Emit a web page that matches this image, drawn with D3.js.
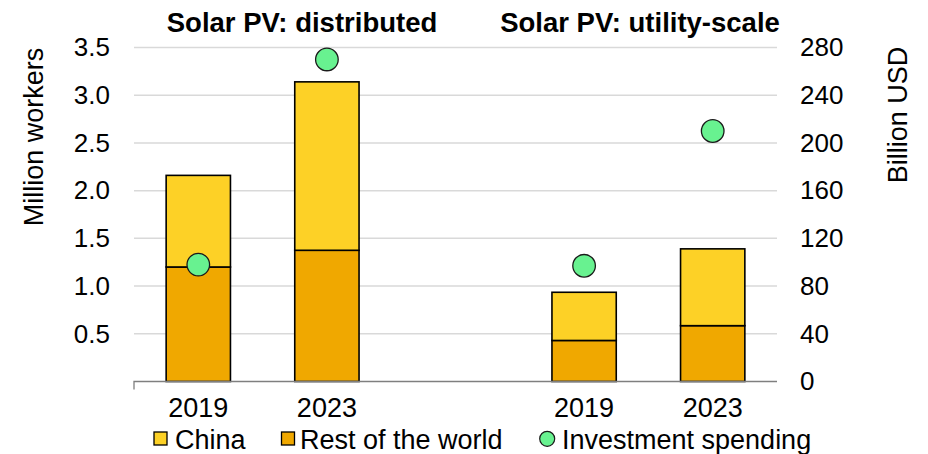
<!DOCTYPE html>
<html>
<head>
<meta charset="utf-8">
<script src="https://cdn.jsdelivr.net/npm/d3@7"></script>
<style>
  body { margin: 0; background: #fff; }
  svg text { font-family: "Liberation Sans", Arial, sans-serif; fill: #000; }
</style>
</head>
<body>
<svg id="chart" width="928" height="454"></svg>
<script>
// Band slots: two panels with an empty slot between them
const slots = ["d2019", "d2023", "gap", "u2019", "u2023"];
const categories = ["d2019", "d2023", "u2019", "u2023"];
const yearLabels = ["2019", "2023", "2019", "2023"];
// Million workers
const china = [0.96, 1.765, 0.505, 0.805];
const restOfWorld = [1.2, 1.375, 0.43, 0.585];
// Billion USD
const investment = [98, 270, 97, 210];
const workerTicks = [0.5, 1.0, 1.5, 2.0, 2.5, 3.0, 3.5];
const usdTicks = [0, 40, 80, 120, 160, 200, 240, 280];
const panelTitles = ["Solar PV: distributed", "Solar PV: utility-scale"];
const legendLabels = ["China", "Rest of the world", "Investment spending"];

const colChina = "#fdd126", colRest = "#f0a800", colInv = "#68f290";

const svg = d3.select("#chart");
const plotL = 134, plotR = 777, plotT = 47.5, plotB = 381.5;

const x = d3.scaleBand().domain(slots).range([plotL, plotR])
  .paddingInner(0.5).paddingOuter(0.25);
const yL = d3.scaleLinear().domain([0, 3.5]).range([plotB, plotT]);
const yR = d3.scaleLinear().domain([0, 280]).range([plotB, plotT]);

// Gridlines
svg.append("g").selectAll("line").data(workerTicks).join("line")
  .attr("x1", plotL).attr("x2", plotR)
  .attr("y1", d => yL(d)).attr("y2", d => yL(d))
  .attr("stroke", "#d9d9d9").attr("stroke-width", 1.5);

// Stacked bars
const rows = categories.map((c, i) => ({ c, rest: restOfWorld[i], china: china[i], inv: investment[i] }));
const stack = d3.stack().keys(["rest", "china"])(rows);
const fills = { rest: colRest, china: colChina };
svg.append("g").selectAll("g").data(stack).join("g")
  .attr("fill", d => fills[d.key])
  .selectAll("rect").data(d => d).join("rect")
  .attr("x", d => x(d.data.c))
  .attr("width", x.bandwidth())
  .attr("y", d => yL(d[1]))
  .attr("height", d => yL(d[0]) - yL(d[1]))
  .attr("stroke", "#000").attr("stroke-width", 1.6);

// Baseline with a single tick at the left end
svg.append("path")
  .attr("d", `M${plotL},${plotB + 8}V${plotB}H${plotR}`)
  .attr("fill", "none").attr("stroke", "#7f7f7f").attr("stroke-width", 1.3);

// Investment dots
svg.append("g").selectAll("circle").data(rows).join("circle")
  .attr("cx", d => x(d.c) + x.bandwidth() / 2)
  .attr("cy", d => yR(d.inv))
  .attr("r", 11.3)
  .attr("fill", colInv).attr("stroke", "#1a1a1a").attr("stroke-width", 1.3);

// Axes
const axL = svg.append("g").attr("transform", `translate(${plotL},0)`)
  .call(d3.axisLeft(yL).tickValues(workerTicks).tickFormat(d3.format(".1f")).tickSize(0).tickPadding(24));
const axR = svg.append("g").attr("transform", `translate(${plotR},0)`)
  .call(d3.axisRight(yR).tickValues(usdTicks).tickSize(0).tickPadding(23));
const axB = svg.append("g").attr("transform", `translate(0,${plotB})`)
  .call(d3.axisBottom(x).tickValues(categories).tickFormat((d, i) => yearLabels[i]).tickSize(0).tickPadding(16.5));
[axL, axR, axB].forEach(g => {
  g.select(".domain").remove();
  g.attr("font-family", null).attr("font-size", null);
  g.selectAll("text").style("font-size", "26px").attr("fill", "#000");
});
axB.selectAll("text").style("font-size", "27px");

// Axis titles
svg.append("text").attr("transform", "translate(43,137) rotate(-90)")
  .attr("text-anchor", "middle").style("font-size", "27px").text("Million workers");
svg.append("text").attr("transform", "translate(907,115) rotate(-90)")
  .attr("text-anchor", "middle").style("font-size", "27px").text("Billion USD");

// Panel titles
svg.append("g").selectAll("text").data(panelTitles).join("text")
  .attr("x", (d, i) => [302, 640][i]).attr("y", 32)
  .attr("text-anchor", "middle")
  .style("font-size", "27.5px").style("font-weight", "bold")
  .text(d => d);

// Legend
const lg = svg.append("g");
const legendX = [154, 281.5, 539.5];
lg.append("rect").attr("x", legendX[0]).attr("y", 432).attr("width", 13).attr("height", 13)
  .attr("fill", colChina).attr("stroke", "#000").attr("stroke-width", 1.3);
lg.append("rect").attr("x", legendX[1]).attr("y", 432).attr("width", 13).attr("height", 13)
  .attr("fill", colRest).attr("stroke", "#000").attr("stroke-width", 1.3);
lg.append("circle").attr("cx", legendX[2] + 7.7).attr("cy", 438.8).attr("r", 7.5)
  .attr("fill", colInv).attr("stroke", "#1a1a1a").attr("stroke-width", 1.2);
lg.selectAll("text").data(legendLabels).join("text")
  .attr("x", (d, i) => legendX[i] + [21, 18.5, 22.5][i]).attr("y", 449)
  .style("font-size", "27px").text(d => d);
</script>
</body>
</html>
